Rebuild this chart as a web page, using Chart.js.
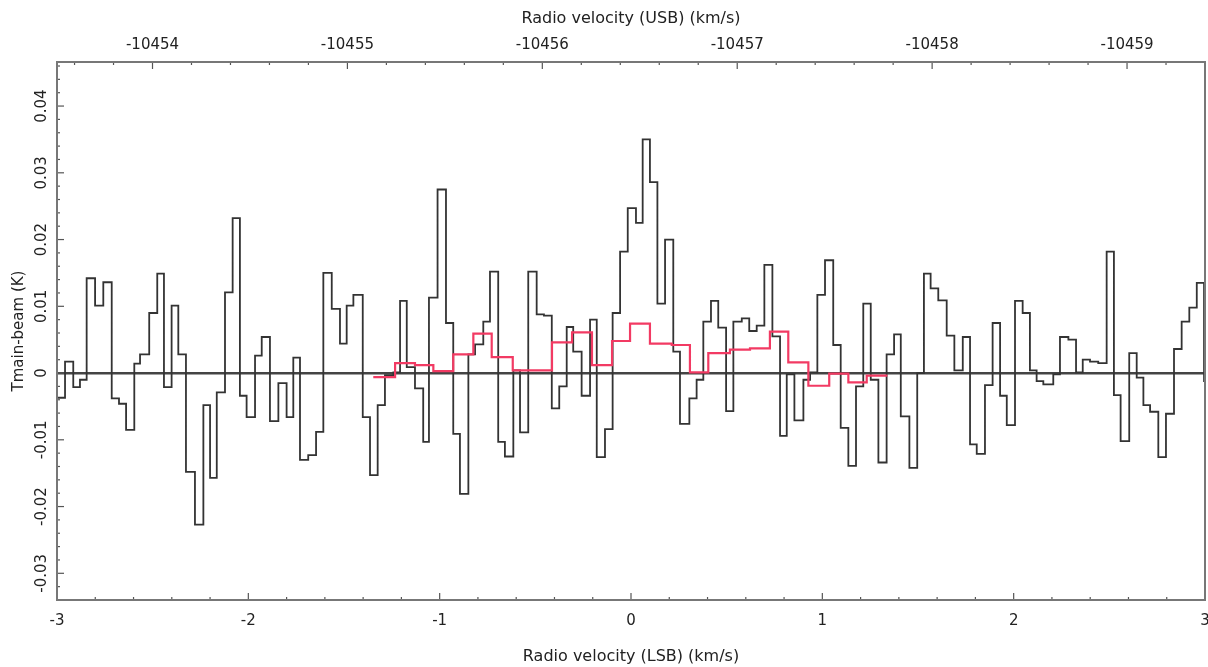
<!DOCTYPE html>
<html>
<head>
<meta charset="utf-8">
<script src="https://cdn.jsdelivr.net/npm/chart.js@4/dist/chart.umd.min.js"></script>
<style>
body{margin:0;background:#fff}
#box{width:1208px;height:667px}
</style>
</head>
<body>
<div id="box"><canvas id="graph"></canvas></div>
<script>

// LSB channel left edges (km/s), last entry is the right edge of the last channel
let blackEdges=[-3.000,-2.958,-2.915,-2.880,-2.845,-2.801,-2.758,-2.714,-2.676,-2.639,
-2.596,-2.566,-2.518,-2.476,-2.441,-2.401,-2.366,-2.326,-2.279,-2.235,
-2.200,-2.165,-2.122,-2.082,-2.044,-2.009,-1.965,-1.930,-1.887,-1.843,
-1.800,-1.765,-1.730,-1.687,-1.646,-1.608,-1.564,-1.521,-1.486,-1.451,
-1.402,-1.364,-1.324,-1.286,-1.242,-1.207,-1.172,-1.129,-1.086,-1.056,
-1.011,-0.967,-0.929,-0.894,-0.850,-0.815,-0.772,-0.737,-0.694,-0.659,
-0.615,-0.580,-0.537,-0.493,-0.455,-0.414,-0.375,-0.336,-0.302,-0.258,
-0.214,-0.179,-0.136,-0.096,-0.057,-0.017,0.026,0.061,0.099,0.138,
0.178,0.221,0.256,0.305,0.343,0.378,0.418,0.456,0.497,0.535,
0.579,0.618,0.657,0.697,0.739,0.779,0.814,0.854,0.901,0.936,
0.974,1.014,1.057,1.096,1.136,1.176,1.214,1.253,1.293,1.336,
1.375,1.410,1.455,1.496,1.531,1.566,1.606,1.650,1.690,1.734,
1.772,1.807,1.850,1.890,1.929,1.964,2.007,2.047,2.085,2.120,
2.155,2.207,2.242,2.286,2.326,2.361,2.399,2.442,2.486,2.524,
2.559,2.604,2.643,2.678,2.713,2.756,2.796,2.838,2.878,2.918,
2.957,2.995,3.000]

// Tmain-beam (K) per channel
let blackVals=[-0.0037,0.0017,-0.0021,-0.0010,0.0142,0.0101,0.0136,-0.0038,-0.0046,-0.0085,
0.0014,0.0028,0.0090,0.0149,-0.0021,0.0101,0.0028,-0.0148,-0.0227,-0.0048,
-0.0157,-0.0029,0.0121,0.0232,-0.0034,-0.0066,0.0026,0.0054,-0.0072,-0.0015,
-0.0066,0.0023,-0.0130,-0.0123,-0.0088,0.0150,0.0096,0.0044,0.0101,0.0117,
-0.0066,-0.0153,-0.0048,-0.0003,0.0001,0.0108,0.0009,-0.0023,-0.0103,0.0113,
0.0275,0.0075,-0.0091,-0.0181,0.0028,0.0043,0.0077,0.0152,-0.0103,-0.0125,
0.0004,-0.0089,0.0152,0.0088,0.0086,-0.0053,-0.0020,0.0069,0.0032,-0.0034,
0.0080,-0.0126,-0.0084,0.0090,0.0182,0.0247,0.0225,0.0350,0.0286,0.0104,
0.0200,0.0032,-0.0076,-0.0038,-0.0010,0.0077,0.0108,0.0068,-0.0057,0.0077,
0.0082,0.0063,0.0071,0.0162,0.0055,-0.0094,-0.0002,-0.0071,-0.0010,0.0001,
0.0117,0.0169,0.0042,-0.0082,-0.0139,-0.0020,0.0104,-0.0010,-0.0134,0.0028,
0.0058,-0.0065,-0.0142,0.0000,0.0149,0.0127,0.0109,0.0056,0.0004,0.0054,
-0.0107,-0.0121,-0.0018,0.0075,-0.0034,-0.0078,0.0108,0.0090,0.0004,-0.0012,
-0.0017,-0.0002,0.0054,0.0050,0.0001,0.0020,0.0017,0.0015,0.0182,-0.0033,
-0.0102,0.0030,-0.0007,-0.0048,-0.0058,-0.0126,-0.0061,0.0036,0.0077,0.0098,
0.0135,-0.0012]

// smoothed spectrum (red)
let redEdges=[-1.347,-1.233,-1.129,-1.033,-0.929,-0.824,-0.728,-0.618,-0.517,-0.413,
-0.308,-0.204,-0.099,-0.005,0.099,0.213,0.308,0.404,0.517,0.622,
0.726,0.822,0.927,1.036,1.136,1.232,1.340]
let redVals=[-0.0006,0.0015,0.0012,0.0003,0.0028,0.0059,0.0024,0.0004,0.0004,0.0046,
0.0061,0.0012,0.0048,0.0074,0.0044,0.0042,0.0001,0.0030,0.0035,0.0037,
0.0062,0.0016,-0.0019,-0.0001,-0.0014,-0.0004]

let lsbTicks=[-3,-2,-1,0,1,2,3]
let usbTicks=[-10454,-10455,-10456,-10457,-10458,-10459]
let yTicks=[-0.03,-0.02,-0.01,0,0.01,0.02,0.03,0.04]
let yLabels=["-0.03","-0.02","-0.01","0","0.01","0.02","0.03","0.04"]

let lsbRange=[-3,3]
let usbRange=[-10459.40,-10453.51]
let yRange=[-0.034,0.0466]

function steps(edges,vals){
return edges.map((x,i)=>({x:x,y:vals[Math.min(i,vals.length-1)]}))
}

let font="'DejaVu Sans', sans-serif"
let ink="#222"

function tick(c,x1,y1,x2,y2){
c.beginPath()
c.moveTo(x1,y1)
c.lineTo(x2,y2)
c.stroke()
}

// no extra side padding for edge labels, the plot runs to the window edge
function noPad(s){
s.paddingLeft=0
s.paddingRight=0
}

let frame={
id:"frame",
afterDraw(chart){
let c=chart.ctx
let a=chart.chartArea
let x=chart.scales.x
let x2=chart.scales.x2
let y=chart.scales.y
c.save()
c.strokeStyle="#555"
c.lineWidth=1.2

for(let i=0;i<=30;i++){
let px=x.getPixelForValue(-3+i*0.2)
tick(c,px,a.bottom,px,a.bottom-(i%5==0?7:3))
}

for(let i=0;i<=40;i++){
let v=-10460+i*0.2
if(v<usbRange[0]||v>usbRange[1]) continue
let px=x2.getPixelForValue(v)
tick(c,px,a.top,px,a.top+(i%5==0?7:3))
}

for(let k=-17;k<=23;k++){
let v=k*0.002
if(v<yRange[0]||v>yRange[1]) continue
let py=y.getPixelForValue(v)
tick(c,a.left,py,a.left+(k%5==0?7:3),py)
}

c.strokeStyle="#777"
c.lineWidth=2
c.strokeRect(a.left,a.top,a.right-a.left,a.bottom-a.top)

c.fillStyle=ink
c.font="15px "+font
c.textAlign="center"
c.textBaseline="middle"
for(let i=0;i<yTicks.length;i++){
let py=y.getPixelForValue(yTicks[i])
c.save()
c.translate(42,py)
c.rotate(-Math.PI/2)
c.fillText(yLabels[i],0,0)
c.restore()
}
c.restore()
}
}

let ctx=document.getElementById("graph").getContext("2d")

let chart=new Chart(ctx,{
type:"line",
data:{
datasets:[{
label:"smoothed",
data:steps(redEdges,redVals),
stepped:true,
borderColor:"#f23a63",
borderWidth:2.2,
pointRadius:0,
fill:false,
order:0
},{
label:"spectrum",
data:steps(blackEdges,blackVals),
stepped:true,
borderColor:"#333",
borderWidth:1.8,
pointRadius:0,
fill:false,
order:1
}]
},
options:{
responsive:true,
maintainAspectRatio:false,
animation:false,
layout:{padding:{left:0,right:3,top:0,bottom:0}},
plugins:{legend:{display:false},tooltip:{enabled:false}},
scales:{
x:{
type:"linear",
position:"bottom",
min:lsbRange[0],
max:lsbRange[1],
afterBuildTicks:s=>{s.ticks=lsbTicks.map(v=>({value:v}))},
afterFit:s=>{s.height=67;noPad(s)},
grid:{display:false,drawTicks:false},
border:{display:false},
ticks:{color:ink,font:{family:font,size:15},padding:12,maxRotation:0,callback:v=>String(v)},
title:{display:true,text:"Radio velocity (LSB) (km/s)",color:ink,font:{family:font,size:16},padding:{top:0,bottom:1}}
},
x2:{
type:"linear",
position:"top",
reverse:true,
min:usbRange[0],
max:usbRange[1],
afterBuildTicks:s=>{s.ticks=usbTicks.map(v=>({value:v}))},
afterFit:s=>{s.height=62;noPad(s)},
grid:{display:false,drawTicks:false},
border:{display:false},
ticks:{color:ink,font:{family:font,size:15},padding:8,maxRotation:0,callback:v=>String(v)},
title:{display:true,text:"Radio velocity (USB) (km/s)",color:ink,font:{family:font,size:16},padding:{top:9,bottom:0}}
},
y:{
type:"linear",
position:"left",
min:yRange[0],
max:yRange[1],
afterBuildTicks:s=>{s.ticks=yTicks.map(v=>({value:v}))},
afterFit:s=>{s.width=57},
grid:{drawTicks:false,color:c=>c.tick&&c.tick.value==0?"#444":"rgba(0,0,0,0)",lineWidth:2.4},
border:{display:false},
ticks:{display:false},
title:{display:true,text:"Tmain-beam (K)",color:ink,font:{family:font,size:15},padding:{top:10,bottom:0}}
}
}
},
plugins:[frame]
})

</script>
</body>
</html>
